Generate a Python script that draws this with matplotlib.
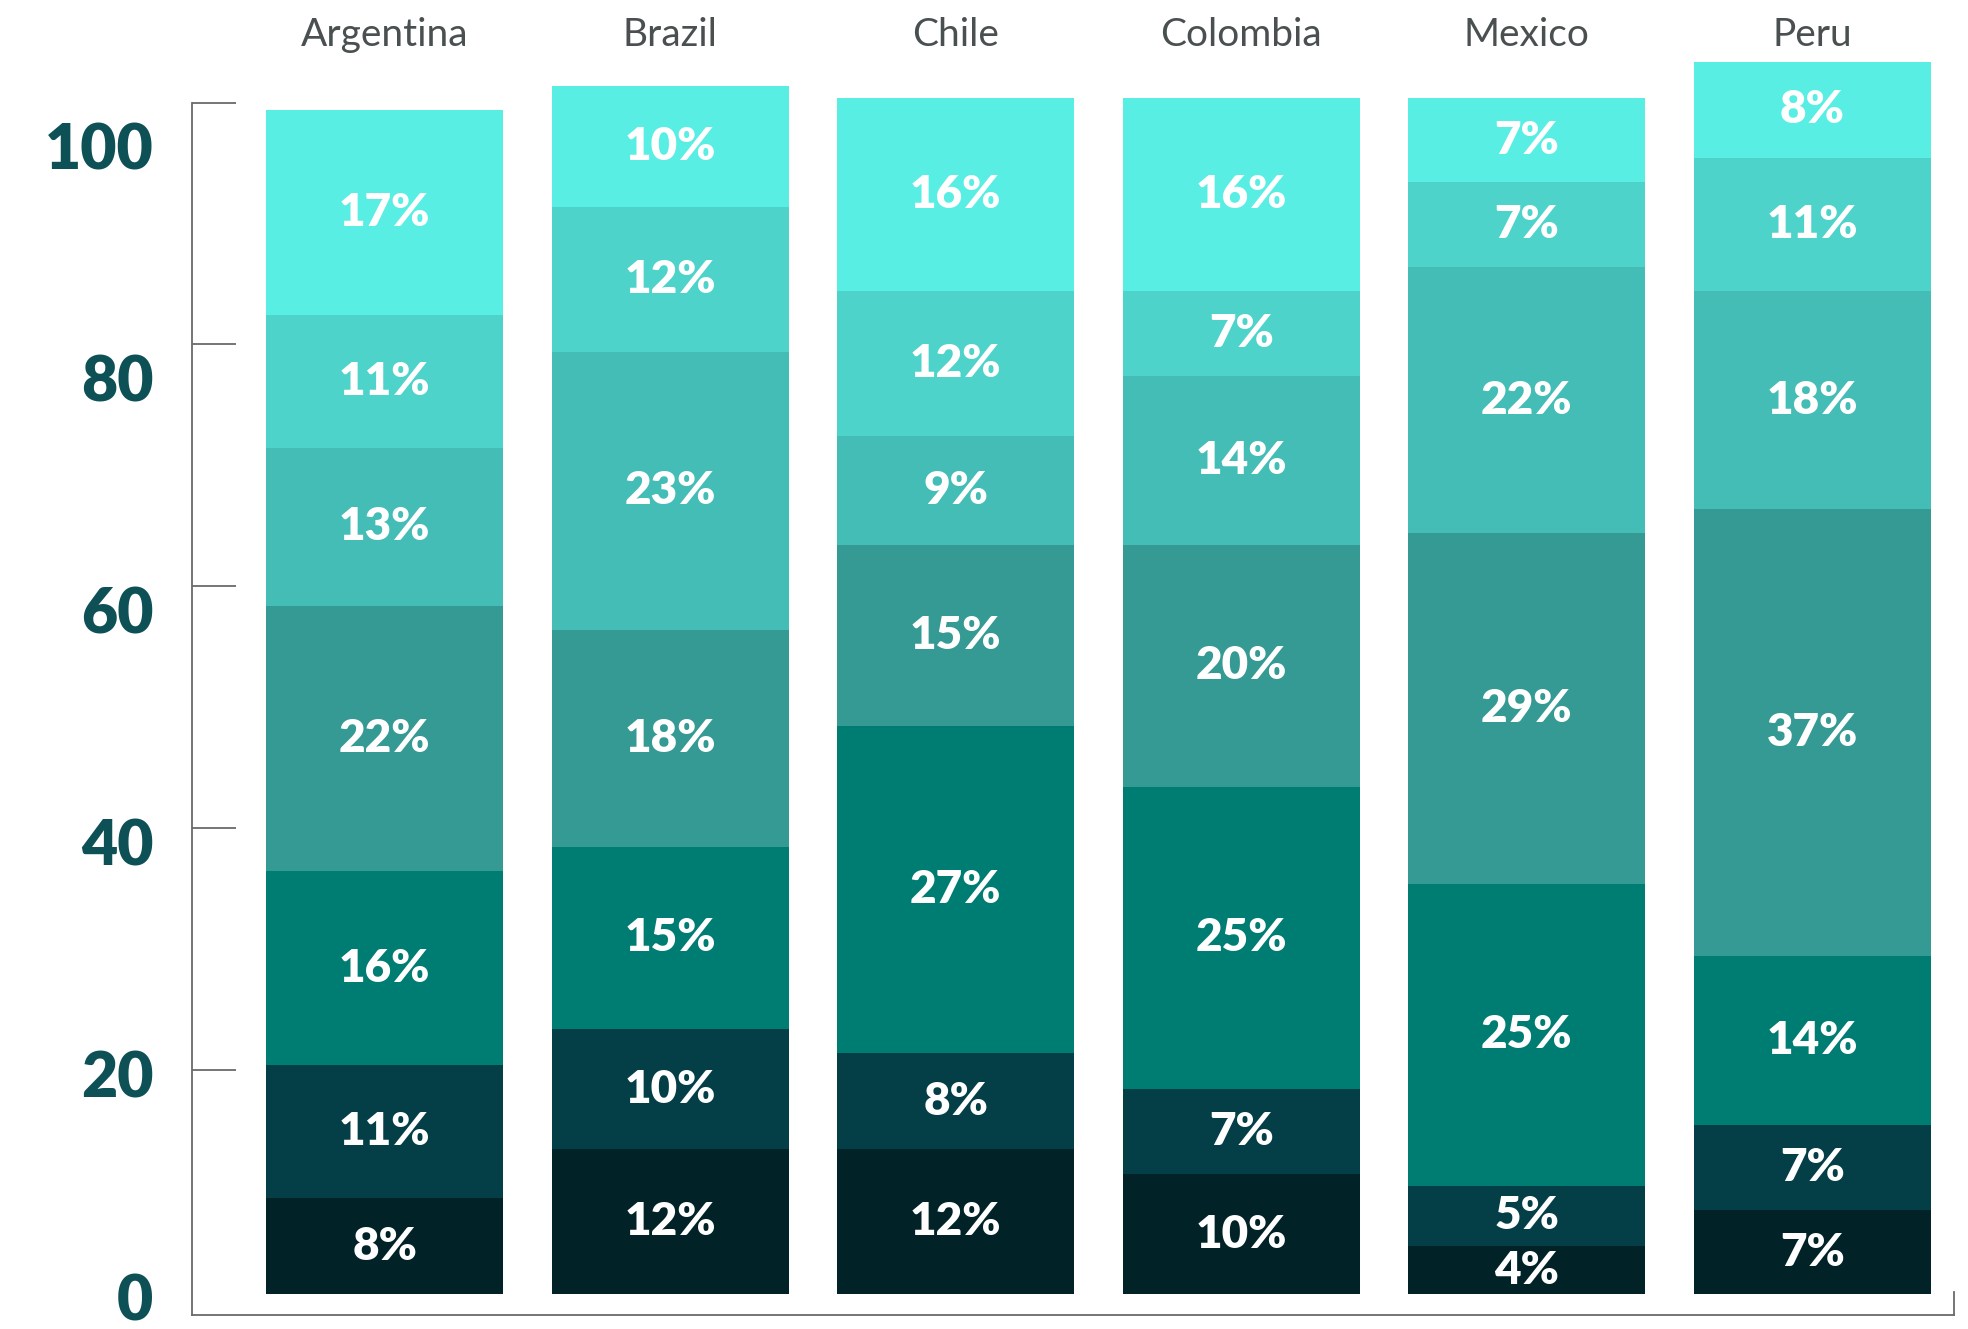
import numpy as np
import matplotlib.pyplot as plt

# ------------------------------------------
# Data (shares in %, listed bottom -> top)
# ------------------------------------------
countries = ["Argentina", "Brazil", "Chile", "Colombia", "Mexico", "Peru"]
argentina = [8, 11, 16, 22, 13, 11, 17]
brazil = [12, 10, 15, 18, 23, 12, 10]
chile = [12, 8, 27, 15, 9, 12, 16]
colombia = [10, 7, 25, 20, 14, 7, 16]
mexico = [4, 5, 25, 29, 22, 7, 7]
peru = [7, 7, 14, 37, 18, 11, 8]
y_ticks = [0, 20, 40, 60, 80, 100]

shares = np.array([argentina, brazil, chile, colombia, mexico, peru])

# dark -> light teal, one per stack level
colors = ["#012328", "#043f48", "#007d72", "#349a93", "#43bdb6", "#4dd3ca", "#58eee4"]

# ------------------------------------------
# Figure
# ------------------------------------------
fig = plt.figure(figsize=(19.68, 13.29), dpi=100)
ax = fig.add_axes([0.0976, 0.0105, 0.8953, 0.985])
ax.set_xlim(-0.675, 5.497)
ax.set_ylim(-0.3, 108)

x = np.arange(len(countries))
base = 1.4
bottom = np.full(len(countries), base)
for level in range(shares.shape[1]):
    vals = shares[:, level]
    ax.bar(x, vals, width=0.83, bottom=bottom, color=colors[level],
           edgecolor="none", zorder=2)
    for xi, b, v in zip(x, bottom, vals):
        ax.text(xi, b + v / 2, f"{v}%", ha="center", va="center",
                color="white", fontsize=33, fontweight="heavy",
                family="Lato", zorder=3)
    bottom = bottom + vals

# country names above the bars
for xi, name in zip(x, countries):
    ax.text(xi, 105.6, name, ha="center", va="center", fontsize=28,
            fontweight="normal", family="Lato", color="#4a5050")

# ------------------------------------------
# Axis frame
# ------------------------------------------
axis_gray = "#6a6a6a"
ax.spines["top"].set_visible(False)
ax.spines["left"].set_bounds(-0.3, 100)
ax.spines["right"].set_bounds(-0.3, 1.6)
for side in ["left", "bottom", "right"]:
    ax.spines[side].set_color(axis_gray)
    ax.spines[side].set_linewidth(1.3)

ax.set_xticks([])
ax.set_yticks(y_ticks[1:])
ax.tick_params(axis="y", direction="in", length=32, width=1.3,
               color=axis_gray, labelleft=False)
ax.set_facecolor("none")

# value labels sit a little below their tick marks
trans = ax.get_yaxis_transform()
for v in y_ticks:
    ax.text(-0.022, 0.96 * v + (0.8 if v == 0 else 0), str(v),
            transform=trans, ha="right", va="center", fontsize=45,
            fontweight="heavy", family="Lato", color="#0d5056", clip_on=False)

fig.savefig("out.png", dpi=100)
